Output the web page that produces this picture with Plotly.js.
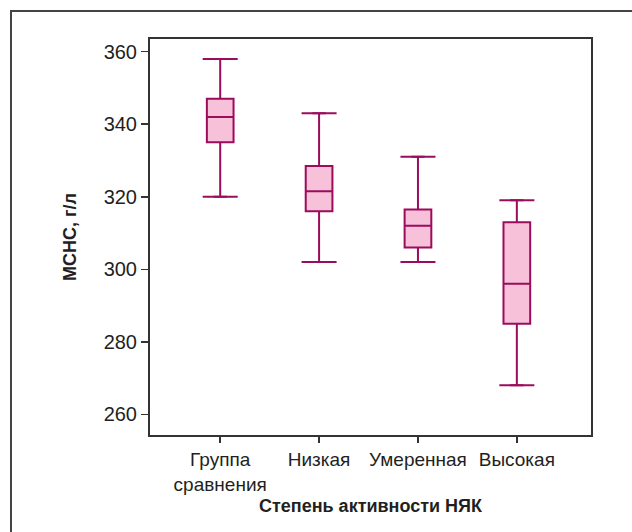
<!DOCTYPE html>
<html>
<head>
<meta charset="utf-8">
<script src="https://cdn.plot.ly/plotly-3.0.1.min.js"></script>
<style>
  html, body { margin: 0; padding: 0; background: #fff; overflow: hidden; }
  #frame { position: absolute; left: 10px; top: 10px; width: 700px; height: 700px; border-left: 2px solid #444; border-top: 2px solid #444; }
  #chart { position: absolute; left: 0; top: 0; width: 632px; height: 532px; }
</style>
</head>
<body>
<div id="frame"></div>
<div id="chart"></div>
<script>
const categories = ["Группа<br>сравнения", "Низкая", "Умеренная", "Высокая"];
const lowerFence = [320, 302, 302, 268];
const q1 = [335, 316, 306, 285];
const median = [342, 321.5, 312, 296];
const q3 = [347, 328.5, 316.5, 313];
const upperFence = [358, 343, 331, 319];
const yTicks = [260, 280, 300, 320, 340, 360];

const lineColor = "#9b0c5c";
const fillColor = "#f7c1da";

const boxTrace = {
  type: "box",
  x: categories,
  q1: q1,
  median: median,
  q3: q3,
  lowerfence: lowerFence,
  upperfence: upperFence,
  width: 0.27,
  fillcolor: fillColor,
  line: { color: lineColor, width: 2 },
  boxpoints: false,
  hoverinfo: "skip",
  showlegend: false
};

const capX = categories.concat(categories);
const capY = lowerFence.concat(upperFence);
const capTrace = {
  type: "scatter",
  mode: "markers",
  x: capX,
  y: capY,
  marker: { symbol: "line-ew", size: 25, color: lineColor, line: { color: lineColor, width: 2 } },
  hoverinfo: "skip",
  showlegend: false
};

const layout = {
  width: 632,
  height: 532,
  margin: { l: 150, r: 41, t: 39, b: 97 },
  paper_bgcolor: "rgba(0,0,0,0)",
  plot_bgcolor: "#ffffff",
  showlegend: false,
  font: { family: "Liberation Sans Narrow, Arial, sans-serif", color: "#231f20" },
  xaxis: {
    type: "category",
    range: [-0.71, 3.75],
    showline: true,
    mirror: true,
    linecolor: "#333",
    linewidth: 2,
    ticks: "outside",
    ticklen: 6,
    tickwidth: 1.5,
    tickcolor: "#333",
    showgrid: false,
    zeroline: false,
    tickfont: { size: 19, family: "Liberation Sans Narrow, Arial, sans-serif", color: "#231f20" },
    title: { text: "Степень активности НЯК", font: { size: 18, family: "Liberation Sans, Arial, sans-serif", color: "#231f20", weight: "bold" }, standoff: 6 }
  },
  yaxis: {
    range: [254.3, 363.5],
    tickvals: yTicks,
    ticktext: yTicks.map(String),
    showline: true,
    mirror: true,
    linecolor: "#333",
    linewidth: 2,
    ticks: "outside",
    ticklen: 7,
    tickwidth: 1.5,
    tickcolor: "#333",
    showgrid: false,
    zeroline: false,
    tickfont: { size: 20, family: "Liberation Sans Narrow, Arial, sans-serif", color: "#231f20" },
    title: { text: "MCHC, г/л", font: { size: 18, family: "Liberation Sans, Arial, sans-serif", color: "#231f20", weight: "bold" }, standoff: 22 }
  }
};

Plotly.newPlot("chart", [boxTrace, capTrace], layout, { staticPlot: true, displayModeBar: false });
</script>
</body>
</html>
